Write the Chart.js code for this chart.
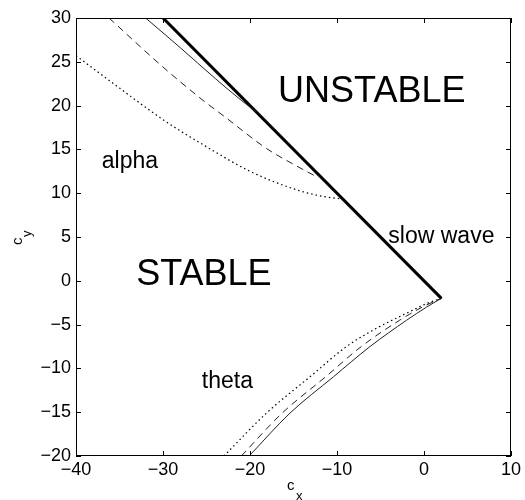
<!DOCTYPE html>
<html>
<head>
<meta charset="utf-8">
<script src="https://cdn.jsdelivr.net/npm/chart.js@4.4.0/dist/chart.umd.min.js"></script>
<style>
  html, body { margin: 0; padding: 0; background: #fff; }
  #wrap { width: 525px; height: 500px; position: relative; }
</style>
</head>
<body>
<div id="wrap"><canvas id="c"></canvas></div>
<script>
// ── Data ───────────────────────────────────────────────────────────────────
const X_TICKS = [-40, -30, -20, -10, 0, 10];
const Y_TICKS = [-20, -15, -10, -5, 0, 5, 10, 15, 20, 25, 30];

// stability boundary (thick)
const boundX = [-30, 2];
const boundY = [30, -2];

// alpha branch
const alphaSolidX  = [-32, -28, -24, -21, -19.3];
const alphaSolidY  = [30, 26.6, 23.1, 20.6, 19.3];
const alphaDashX   = [-36.2, -30, -25.4, -23, -18.1, -15, -12.2];
const alphaDashY   = [30, 24.4, 20.6, 18.8, 15.1, 13.3, 11.8];
const alphaDotX    = [-40, -35, -30, -25, -20, -15, -12, -9.6];
const alphaDotY    = [25.7, 22.0, 18.4, 15.3, 12.5, 10.5, 9.7, 9.35];

// theta branch
const thetaSolidX  = [-20.1, -15.4, -10.4, -6.2, -2.0, 0.3, 2];
const thetaSolidY  = [-20, -15.1, -10.95, -7.5, -4.5, -3.0, -2];
const thetaDashX   = [-21, -16.3, -11.3, -7.2, -2.8, 0, 2];
const thetaDashY   = [-20, -15.1, -10.95, -7.5, -4.5, -2.9, -2];
const thetaDotX    = [-23, -18.1, -13.1, -8.9, -5.8, -2, 0.3, 2];
const thetaDotY    = [-20, -15.1, -10.95, -7.5, -5.6, -3.7, -2.6, -2];

// region labels
const labelText = ["UNSTABLE", "STABLE", "alpha", "slow wave", "theta"];
const labelX    = [-6, -25.3, -33.8, 2, -22.6];
const labelY    = [21.6, 0.6, 13.6, 5.0, -11.5];
const labelSize = [36, 36, 23, 23, 23];

// ── Helpers ────────────────────────────────────────────────────────────────
const FONT = "'Liberation Sans', Arial, sans-serif";
const pts = (xs, ys) => xs.map((x, i) => ({ x, y: ys[i] }));
const fmt = v => (v < 0 ? "\u2212" + Math.abs(v) : String(v));

function line(xs, ys, width, dash, color) {
  return {
    data: pts(xs, ys),
    showLine: true,
    borderColor: color || "#000",
    borderWidth: width,
    borderDash: dash || [],
    pointRadius: 0,
    cubicInterpolationMode: "monotone",
    fill: false,
  };
}

// box, inward ticks, text labels and axis titles
const matlabBox = {
  id: "matlabBox",
  afterDraw(chart) {
    const { ctx, chartArea: a, scales } = chart;
    ctx.save();
    ctx.strokeStyle = "#000";
    ctx.lineWidth = 1;
    ctx.strokeRect(a.left + 0.5, a.top + 0.5, a.right - a.left - 1, a.bottom - a.top - 1);
    ctx.beginPath();
    X_TICKS.forEach(v => {
      const px = Math.round(scales.x.getPixelForValue(v)) + 0.5;
      ctx.moveTo(px, a.bottom); ctx.lineTo(px, a.bottom - 5);
      ctx.moveTo(px, a.top);    ctx.lineTo(px, a.top + 5);
    });
    Y_TICKS.forEach(v => {
      const py = Math.round(scales.y.getPixelForValue(v)) + 0.5;
      ctx.moveTo(a.left, py);  ctx.lineTo(a.left + 5, py);
      ctx.moveTo(a.right, py); ctx.lineTo(a.right - 5, py);
    });
    ctx.stroke();

    ctx.fillStyle = "#000";
    ctx.textAlign = "center";
    ctx.textBaseline = "middle";
    labelText.forEach((t, i) => {
      ctx.font = labelSize[i] + "px " + FONT;
      ctx.fillText(t, scales.x.getPixelForValue(labelX[i]), scales.y.getPixelForValue(labelY[i]));
    });

    // c_x
    ctx.textAlign = "left";
    ctx.textBaseline = "alphabetic";
    ctx.font = "15px " + FONT;
    ctx.fillText("c", 287, 490);
    ctx.font = "13px " + FONT;
    ctx.fillText("x", 296, 500);

    // c_y (rotated)
    ctx.translate(22, 237);
    ctx.rotate(-Math.PI / 2);
    ctx.font = "15px " + FONT;
    ctx.fillText("c", -8, 0);
    ctx.font = "13px " + FONT;
    ctx.fillText("y", 0, 9);
    ctx.restore();
  },
};

// ── Chart ──────────────────────────────────────────────────────────────────
new Chart(document.getElementById("c"), {
  type: "scatter",
  data: {
    datasets: [
      line(alphaDotX, alphaDotY, 1.2, [1.5, 3]),
      line(alphaDashX, alphaDashY, 1, [7, 5], "#222"),
      line(alphaSolidX, alphaSolidY, 1, [], "#222"),
      line(thetaDotX, thetaDotY, 1.2, [1.5, 3]),
      line(thetaDashX, thetaDashY, 1, [7, 5], "#222"),
      line(thetaSolidX, thetaSolidY, 1, [], "#222"),
      line(boundX, boundY, 3),
    ],
  },
  options: {
    responsive: true,
    maintainAspectRatio: false,
    animation: false,
    layout: { padding: { left: 0, top: 18, right: 14, bottom: 0 } },
    plugins: { legend: { display: false }, tooltip: { enabled: false } },
    scales: {
      x: {
        type: "linear",
        min: -40, max: 10,
        afterFit: s => { s.height = 44; },
        afterBuildTicks: s => { s.ticks = X_TICKS.map(v => ({ value: v })); },
        grid: { display: false, drawTicks: false },
        border: { display: false },
        ticks: { color: "#000", padding: 3, maxRotation: 0, font: { family: FONT, size: 18 }, callback: fmt },
      },
      y: {
        type: "linear",
        min: -20, max: 30,
        afterFit: s => { s.width = 76; },
        afterBuildTicks: s => { s.ticks = Y_TICKS.map(v => ({ value: v })); },
        grid: { display: false, drawTicks: false },
        border: { display: false },
        ticks: { color: "#000", padding: 5, font: { family: FONT, size: 18 }, callback: fmt },
      },
    },
  },
  plugins: [matlabBox],
});
</script>
</body>
</html>
